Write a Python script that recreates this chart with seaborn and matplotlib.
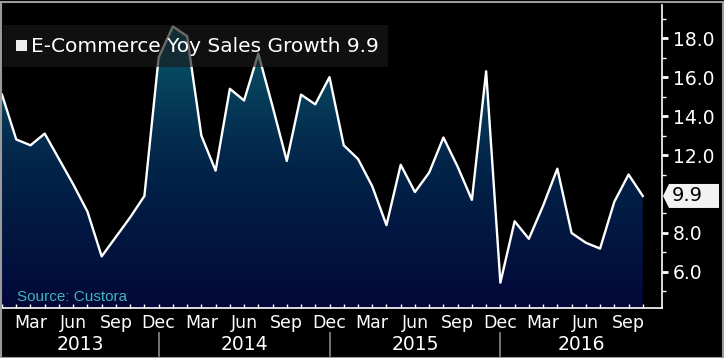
import numpy as np
import pandas as pd
import matplotlib
matplotlib.use("Agg")
import matplotlib.pyplot as plt
import matplotlib.patches as mpatches
from matplotlib.colors import LinearSegmentedColormap
from matplotlib.transforms import blended_transform_factory
import seaborn as sns

# monthly e-commerce yoy sales growth, Jan 2013 .. Oct 2016
start_month = "2013-01"
growth = [15.1, 12.8, 12.5, 13.1, 11.8, 10.5, 9.1, 6.8, 7.8, 8.8, 9.9, 17.0,
          18.6, 18.1, 13.0, 11.2, 15.4, 14.8, 17.2, 14.5, 11.7, 15.1, 14.6, 16.0,
          12.5, 11.8, 10.4, 8.4, 11.5, 10.1, 11.1, 12.9, 11.4, 9.7, 16.3, 5.45,
          8.6, 7.7, 9.4, 11.3, 8.0, 7.5, 7.2, 9.6, 11.0, 9.9]
label_months = ["Mar", "Jun", "Sep", "Dec"]
y_ticks = [6, 8, 12, 14, 16, 18]  # 10 sits under the last-value tag
series_name = "E-Commerce Yoy Sales Growth"
source_text = "Source: Custora"

months = pd.period_range(start_month, periods=len(growth), freq="M")
df = pd.DataFrame({"idx": np.arange(len(growth)), "growth": growth,
                   "month": months.strftime("%b"), "year": months.year})

W, H = 724, 358
fig = plt.figure(figsize=(W / 100, H / 100), dpi=100, facecolor="black")
ax = fig.add_axes([2 / W, 50 / H, 660 / W, 303 / H])
ax.set_facecolor("black")
ymin, ymax = 4.15, 19.7
xmax = 46.35
ax.set_xlim(0, xmax)
ax.set_ylim(ymin, ymax)

# gradient area under the line
cmap = LinearSegmentedColormap.from_list("bbg", ["#020838", "#03264a", "#0a6070"])
grad = np.linspace(0, 1, 256).reshape(-1, 1)
im = ax.imshow(grad, extent=[0, xmax, ymin, ymax], origin="lower", aspect="auto",
               cmap=cmap, zorder=1)
poly = ax.fill_between(df["idx"], df["growth"], ymin, facecolor="none", lw=0)
im.set_clip_path(poly.get_paths()[0], transform=ax.transData)

sns.lineplot(data=df, x="idx", y="growth", color="white", lw=1.7, ax=ax, zorder=3)
ax.set_xlabel("")
ax.set_ylabel("")

# axes styling
for s in ["left", "top"]:
    ax.spines[s].set_visible(False)
for s in ["right", "bottom"]:
    ax.spines[s].set_color("white")
    ax.spines[s].set_linewidth(1.2)

ax.yaxis.tick_right()
ax.set_yticks(y_ticks)
ax.set_yticklabels([f"{v:.1f}" for v in y_ticks])
ax.set_yticks(np.arange(5, 20, 2), minor=True)
ax.tick_params(axis="y", which="major", colors="white", length=4, width=2,
               labelsize=13.5, pad=4)
ax.tick_params(axis="y", which="minor", colors="white", length=3, width=1)

lab = df[df["month"].isin(label_months)]
ax.set_xticks(lab["idx"])
ax.set_xticklabels(lab["month"])
ax.set_xticks(df["idx"], minor=True)
ax.tick_params(axis="x", which="both", colors="white", direction="in", length=3,
               width=1, labelsize=12.5, pad=4)

# year row
trans = blended_transform_factory(ax.transData, fig.transFigure)
dec_idx = df.loc[df["month"] == "Dec", "idx"].tolist()
bounds = [0] + dec_idx + [xmax]
years = sorted(df["year"].unique())
for k, yr in enumerate(years):
    ax.text((bounds[k] + bounds[k + 1]) / 2, (H - 344) / H, str(yr), transform=trans,
            ha="center", va="center", color="white", fontsize=13.5, clip_on=False)
for d in dec_idx:
    ax.plot([d, d], [(H - 333) / H, (H - 356) / H], transform=trans, color="#8a8a8a",
            lw=1.2, clip_on=False)

# source note
fig.text(17 / W, (H - 297) / H, source_text, color="#3fb5c0", fontsize=11,
         family="Liberation Sans", va="center", ha="left")

# legend box
fig.patches.append(mpatches.Rectangle((3 / W, (H - 67) / H), 385 / W, 42 / H,
                                      transform=fig.transFigure, facecolor="#1a1a1a",
                                      alpha=0.65, edgecolor="none", zorder=5))
fig.patches.append(mpatches.Rectangle((16 / W, (H - 51) / H), 11 / W, 11 / H,
                                      transform=fig.transFigure, facecolor="#eeeeee",
                                      edgecolor="none", zorder=6))
fig.text(31 / W, (H - 46) / H, f"{series_name} {growth[-1]:.1f}", color="white",
         fontsize=14.5, va="center", ha="left", zorder=7)

# last value tag on the right axis
fig.canvas.draw()
y_last = ax.transData.transform((0, growth[-1]))[1]
tag = [(663, y_last), (669, y_last + 12), (719, y_last + 12), (719, y_last - 12),
       (669, y_last - 12)]
fig.patches.append(mpatches.Polygon([(px / W, py / H) for px, py in tag], closed=True,
                                    transform=fig.transFigure, facecolor="#f2f2f2",
                                    edgecolor="none", zorder=8))
fig.text(672 / W, y_last / H, f"{growth[-1]:.1f}", color="black", fontsize=14,
         va="center", ha="left", zorder=9)

# outer frame
fig.patches.append(mpatches.Rectangle((0.5 / W, 0.5 / H), (W - 1.5) / W, (H - 2.5) / H,
                                      transform=fig.transFigure, fill=False,
                                      edgecolor="#9a9a9a", lw=1.5, zorder=10))

fig.savefig("out.png", dpi=100, facecolor="black")
